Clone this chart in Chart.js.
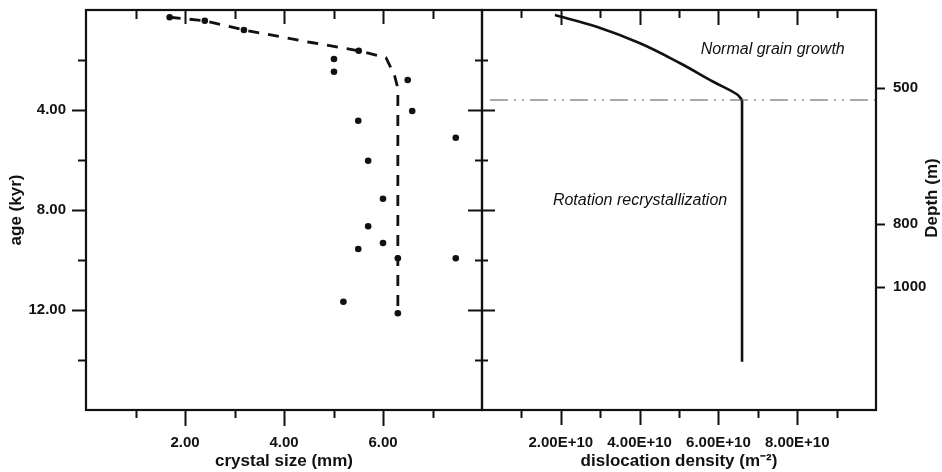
<!DOCTYPE html>
<html>
<head>
<meta charset="utf-8">
<script src="https://cdn.jsdelivr.net/npm/chart.js@4.4.1/dist/chart.umd.min.js"></script>
<style>
  body { margin: 0; background: #fff; }
  #wrap { position: relative; width: 942px; height: 472px; }
  #wrap canvas { position: absolute; left: 0; top: 0; }
</style>
</head>
<body>
<div id="wrap">
  <canvas id="size-chart" width="942" height="472"></canvas>
  <canvas id="density-chart" width="942" height="472"></canvas>
</div>
<script>
// measured crystal size (mm) against age (kyr)
const sizeValues = [1.69, 2.40, 3.19, 5.51, 5.01, 5.01, 6.50, 6.59, 5.50, 7.47, 5.70, 6.00, 5.70, 6.00, 5.50, 6.30, 7.47, 5.20, 6.30];
const sizeAges = [0.29, 0.43, 0.80, 1.63, 1.96, 2.47, 2.80, 4.04, 4.43, 5.11, 6.03, 7.55, 8.65, 9.32, 9.56, 9.93, 9.93, 11.67, 12.13];

// dashed model curve for crystal size
const modelSizes = [1.69, 2.40, 3.19, 4.58, 5.51, 6.06, 6.23, 6.30, 6.30];
const modelAges = [0.29, 0.43, 0.80, 1.31, 1.63, 1.91, 2.60, 3.13, 12.13];

// dislocation density (m-2) against age (kyr)
const densityValues = [1.85e10, 2.91e10, 4.01e10, 5.03e10, 5.87e10, 6.46e10, 6.60e10];
const densityAges = [0.20, 0.67, 1.33, 2.13, 2.87, 3.36, 3.60];
const densityTailValues = [6.60e10, 6.60e10];
const densityTailAges = [3.60, 14.07];

// boundary between the two regimes
const boundaryValues = [0.2e10, 1e11];
const boundaryAges = [3.60, 3.60];

// axis ticks
const sizeMajor = [2, 4, 6];
const sizeMinor = [1, 3, 5, 7];
const ageMajor = [4, 8, 12];
const ageMinor = [2, 6, 10, 14];
const densityMajor = [2e10, 4e10, 6e10, 8e10];
const densityMinor = [1e10, 3e10, 5e10, 7e10, 9e10];
const depthLabels = ["500", "800", "1000"];
const depthAges = [3.12, 8.56, 11.08];

// regime labels (text, density, age)
const regimeTexts = ["Normal grain growth", "Rotation recrystallization"];
const regimeValues = [5.55e10, 1.80e10];
const regimeAges = [1.6, 7.64];

const INK = "#111";
const FONT = "'Liberation Sans', Arial, Helvetica, sans-serif";
Chart.defaults.font.family = FONT;
Chart.defaults.color = INK;

function toPoints(xs, ys) {
	return xs.map((x, i) => ({ x: x, y: ys[i] }));
}

function isIn(list, v) {
	return list.some((w) => Math.abs(w - v) < 1e-6 * Math.max(1, Math.abs(w)));
}

// fixed axis box, no extra label padding
function fixBox(size) {
	return (s) => {
		if (s.isHorizontal()) s.height = size;
		else s.width = size;
		s.paddingTop = 0;
		s.paddingBottom = 0;
		s.paddingLeft = 0;
		s.paddingRight = 0;
	};
}

// frame, tick marks and in-plot texts
const framePlugin = {
	id: "frame",
	afterDraw(chart, args, opts) {
		const ctx = chart.ctx;
		const a = chart.chartArea;
		ctx.save();
		ctx.strokeStyle = INK;
		ctx.lineWidth = 2.2;
		ctx.strokeRect(a.left, a.top, a.right - a.left, a.bottom - a.top);
		(opts.marks || []).forEach((m) => {
			const scale = chart.scales[m.scale];
			ctx.lineWidth = 2;
			ctx.beginPath();
			m.values.forEach((v) => {
				const p = Math.round(scale.getPixelForValue(v)) + 0.5;
				if (m.edge === "top" || m.edge === "bottom") {
					const e = m.edge === "top" ? a.top : a.bottom;
					ctx.moveTo(p, e + m.from);
					ctx.lineTo(p, e + m.to);
				} else {
					const e = m.edge === "left" ? a.left : a.right;
					ctx.moveTo(e + m.from, p);
					ctx.lineTo(e + m.to, p);
				}
			});
			ctx.stroke();
		});
		(opts.texts || []).forEach((t) => {
			ctx.font = "italic 16px " + FONT;
			ctx.fillStyle = INK;
			ctx.textAlign = "left";
			ctx.textBaseline = "middle";
			ctx.fillText(t.text, chart.scales.x.getPixelForValue(t.x), chart.scales.y.getPixelForValue(t.y));
		});
		if (opts.sideTitle) {
			ctx.font = "bold 17px " + FONT;
			ctx.fillStyle = INK;
			ctx.textAlign = "center";
			ctx.textBaseline = "middle";
			ctx.translate(a.right + 56, (a.top + a.bottom) / 2 - 12);
			ctx.rotate(-Math.PI / 2);
			ctx.fillText(opts.sideTitle, 0, 0);
		}
		ctx.restore();
	},
};

const tickFont = { size: 15, weight: "bold" };
const titleFont = { size: 17, weight: "bold" };
const noGrid = { display: false, drawTicks: false };

new Chart(document.getElementById("size-chart"), {
	type: "scatter",
	data: {
		datasets: [
			{
				label: "model",
				data: toPoints(modelSizes, modelAges),
				showLine: true,
				borderColor: INK,
				borderWidth: 2.8,
				borderDash: [11, 9],
				pointRadius: 0,
				tension: 0,
			},
			{
				label: "crystal size",
				data: toPoints(sizeValues, sizeAges),
				backgroundColor: INK,
				borderWidth: 0,
				pointRadius: 3.3,
			},
		],
	},
	options: {
		responsive: false,
		animation: false,
		layout: { padding: { left: 0, right: 460, top: 10, bottom: 0 } },
		scales: {
			x: {
				type: "linear",
				min: 0,
				max: 8,
				grid: noGrid,
				border: { display: false },
				ticks: {
					stepSize: 1,
					autoSkip: false,
					maxRotation: 0,
					padding: 24,
					font: tickFont,
					callback: (v) => (isIn(sizeMajor, v) ? v.toFixed(2) : ""),
				},
				title: { display: true, text: "crystal size (mm)", font: titleFont, padding: { top: 0, bottom: 0 } },
				afterFit: fixBox(62),
			},
			y: {
				type: "linear",
				min: 0,
				max: 16,
				reverse: true,
				grid: noGrid,
				border: { display: false },
				ticks: {
					stepSize: 2,
					autoSkip: false,
					padding: 20,
					font: tickFont,
					callback: (v) => (isIn(ageMajor, v) ? v.toFixed(2) : ""),
				},
				title: { display: true, text: "age (kyr)", font: titleFont, padding: { top: 6, bottom: 0 } },
				afterFit: fixBox(86),
			},
		},
		plugins: {
			legend: { display: false },
			tooltip: { enabled: false },
			frame: {
				marks: [
					{ scale: "x", edge: "bottom", values: sizeMajor, from: 0, to: 16 },
					{ scale: "x", edge: "bottom", values: sizeMinor, from: 0, to: 8 },
					{ scale: "x", edge: "top", values: sizeMajor, from: 0, to: 14 },
					{ scale: "x", edge: "top", values: sizeMinor, from: 0, to: 9 },
					{ scale: "y", edge: "left", values: ageMajor, from: -14, to: 0 },
					{ scale: "y", edge: "left", values: ageMinor, from: -8, to: 0 },
					{ scale: "y", edge: "right", values: ageMajor, from: -14, to: 13 },
					{ scale: "y", edge: "right", values: ageMinor, from: -7, to: 6 },
				],
			},
		},
	},
	plugins: [framePlugin],
});

new Chart(document.getElementById("density-chart"), {
	type: "scatter",
	data: {
		datasets: [
			{
				label: "boundary",
				data: toPoints(boundaryValues, boundaryAges),
				showLine: true,
				borderColor: "#555",
				borderWidth: 1,
				borderDash: [18, 6, 2, 6, 2, 6],
				pointRadius: 0,
			},
			{
				label: "dislocation density",
				data: toPoints(densityValues, densityAges),
				showLine: true,
				borderColor: INK,
				borderWidth: 2.6,
				pointRadius: 0,
				tension: 0.4,
			},
			{
				label: "dislocation density (deep)",
				data: toPoints(densityTailValues, densityTailAges),
				showLine: true,
				borderColor: INK,
				borderWidth: 2.6,
				pointRadius: 0,
			},
		],
	},
	options: {
		responsive: false,
		animation: false,
		layout: { padding: { left: 482, right: 0, top: 10, bottom: 0 } },
		scales: {
			x: {
				type: "linear",
				min: 0,
				max: 1e11,
				grid: noGrid,
				border: { display: false },
				ticks: {
					stepSize: 1e10,
					autoSkip: false,
					maxRotation: 0,
					padding: 24,
					font: tickFont,
					callback: (v) => (isIn(densityMajor, v) ? v.toExponential(2).toUpperCase() : ""),
				},
				title: { display: true, text: "dislocation density (m\u207B\u00B2)", font: titleFont, padding: { top: 0, bottom: 0 } },
				afterFit: fixBox(62),
			},
			y: {
				type: "linear",
				position: "right",
				min: 0,
				max: 16,
				reverse: true,
				grid: noGrid,
				border: { display: false },
				afterBuildTicks: (s) => { s.ticks = depthAges.map((v) => ({ value: v })); },
				ticks: {
					autoSkip: false,
					padding: 17,
					font: tickFont,
					callback: (v, i) => depthLabels[i],
				},
				afterFit: fixBox(66),
			},
		},
		plugins: {
			legend: { display: false },
			tooltip: { enabled: false },
			frame: {
				marks: [
					{ scale: "x", edge: "bottom", values: densityMajor, from: 0, to: 15 },
					{ scale: "x", edge: "bottom", values: densityMinor, from: 0, to: 8 },
					{ scale: "x", edge: "top", values: densityMajor, from: 0, to: 15 },
					{ scale: "x", edge: "top", values: densityMinor, from: 0, to: 8 },
					{ scale: "y", edge: "right", values: depthAges, from: 0, to: 9 },
				],
				texts: regimeTexts.map((t, i) => ({ text: t, x: regimeValues[i], y: regimeAges[i] })),
				sideTitle: "Depth (m)",
			},
		},
	},
	plugins: [framePlugin],
});
</script>
</body>
</html>
